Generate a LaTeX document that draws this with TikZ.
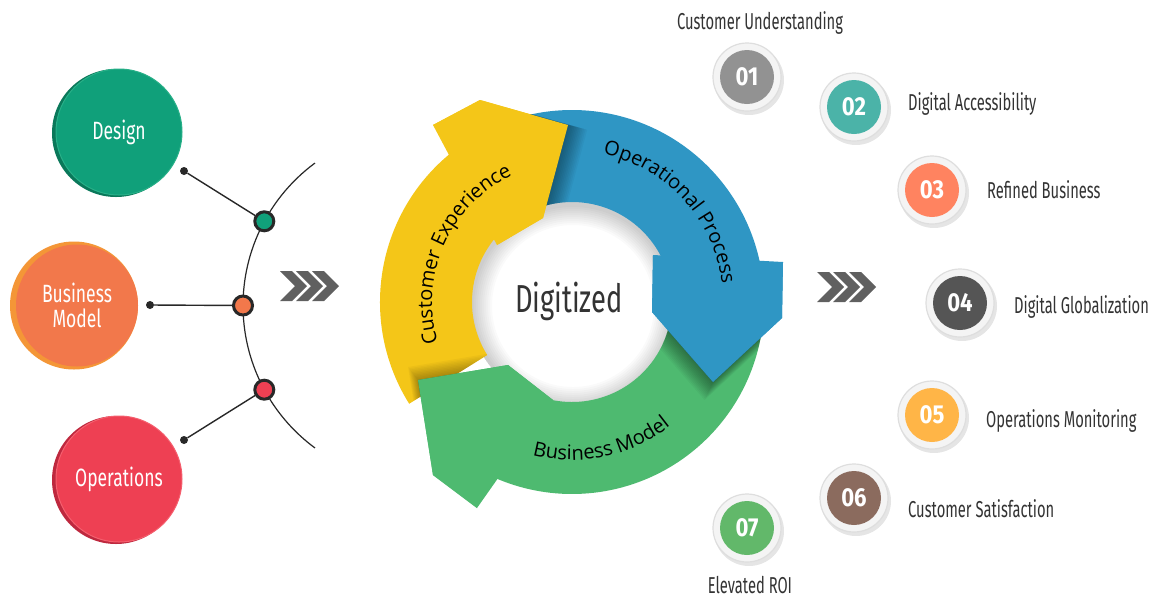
\documentclass[tikz,border=0pt]{standalone}
\usepackage{fontspec}
\setmainfont{Fira Sans}
\newfontfamily\cond[FakeStretch=0.7]{Fira Sans}
\newfontfamily\condr[FakeStretch=0.64]{Fira Sans}
\newfontfamily\numf[FakeStretch=0.85]{Fira Sans}
\newfontfamily\arcf{Open Sans}
\usetikzlibrary{decorations.text}
\definecolor{cyel}{RGB}{244,198,24}
\definecolor{cblu}{RGB}{47,150,196}
\definecolor{cgrn}{RGB}{78,186,112}
\definecolor{design}{RGB}{16,160,122}
\definecolor{designD}{RGB}{10,120,90}
\definecolor{designL}{RGB}{40,176,136}
\definecolor{bizm}{RGB}{242,120,75}
\definecolor{bizmD}{RGB}{244,150,55}
\definecolor{opsc}{RGB}{238,64,83}
\definecolor{opscD}{RGB}{190,40,62}
\definecolor{opscL}{RGB}{245,95,110}
\definecolor{chev}{RGB}{96,96,96}
\definecolor{n1}{RGB}{146,146,146}
\definecolor{n2}{RGB}{75,179,168}
\definecolor{n3}{RGB}{255,131,96}
\definecolor{n4}{RGB}{85,85,85}
\definecolor{n5}{RGB}{255,181,71}
\definecolor{n6}{RGB}{139,107,94}
\definecolor{n7}{RGB}{98,184,106}
\definecolor{txt}{RGB}{51,51,51}
\definecolor{ringF}{RGB}{244,244,244}
\definecolor{ringD}{RGB}{222,222,222}
\definecolor{linec}{RGB}{40,40,40}
\begin{document}
\begin{tikzpicture}[x=1pt,y=-1pt,
  lbl/.style={inner sep=0pt, text=txt, font=\condr\fontsize{23}{23}\selectfont},
  bigc/.style={circle, minimum size=126, inner sep=0pt, text=white, align=center,
    font=\cond\fontsize{25}{25}\selectfont},
  hub/.style={circle, minimum size=19, inner sep=0pt, draw=linec, line width=3},
  dotn/.style={circle, minimum size=8, inner sep=0pt, fill=linec},
  conn/.style={draw=linec, line width=1.4},
  numring/.style={circle, minimum size=68, inner sep=0pt, fill=ringF, draw=ringD, line width=1.2},
  numdisk/.style={circle, minimum size=54, inner sep=0pt, fill=#1, text=white,
    font=\numf\bfseries\fontsize{26}{26}\selectfont},
  arclbl/.style={decorate, decoration={text along path, text align=center, text color=black,
    text={|\arcf\fontsize{20}{20}\selectfont|#1}}}
]
\useasboundingbox (0,0) rectangle (1156,598);
\fill[white] (0,0) rectangle (1156,598);

% ---------- left side ----------
\draw[linec, line width=1.2] (420,305.5) ++(233.6:177) arc[start angle=233.6, end angle=126.4, radius=177];

\fill[designD] (116,133) circle[radius=64];
\node[bigc, fill=design, draw=designL, line width=1] (design) at (119,132) {Design};
\fill[bizmD] (74,305.5) circle[radius=64];
\node[bigc, fill=bizm, minimum size=122] (bizmodel) at (77,305.5) {Business\\Model};
\fill[opscD] (116,480) circle[radius=64];
\node[bigc, fill=opsc, draw=opscL, line width=1] (ops) at (119,479) {Operations};

\node[dotn] (d1) at (184,171) {};
\node[dotn] (d2) at (150,305) {};
\node[dotn] (d3) at (184,440) {};
\node[hub, fill=design] (h1) at (264.3,221.3) {};
\node[hub, fill=bizm] (h2) at (243,305.5) {};
\node[hub, fill=opsc] (h3) at (264.3,389.7) {};
\draw[conn] (d1) -- (h1);
\draw[conn] (d2) -- (h2);
\draw[conn] (d3) -- (h3);

% chevrons
\foreach \x in {280,296,312}
  \fill[chev] (\x,271) -- ++(12,0) -- ++(15,15) -- ++(-15,15) -- ++(-12,0) -- ++(15,-15) -- cycle;
\foreach \x in {817,833,849}
  \fill[chev] (\x,272) -- ++(12,0) -- ++(15,15) -- ++(-15,15) -- ++(-12,0) -- ++(15,-15) -- cycle;

% ---------- cycle ----------
\begin{scope}[shift={(572,302)}]
  % inner shadow of the hole
  \foreach \k in {1,...,10}
    \fill[black, opacity=0.02, even odd rule] (0,0) circle[radius=104] (1,4) circle[radius=101-2*\k];
  % full arrows
  \fill[cyel] (148:192) arc[start angle=148, end angle=236, radius=192]
    -- (-139,-177) -- (-92,-202) -- (-4,-177) -- (-29,-84) -- (-75,-57)
    -- (231:100) arc[start angle=231, end angle=148, radius=100] -- cycle;
  \fill[cgrn] (8:192) arc[start angle=8, end angle=121, radius=192]
    -- (-95,206) -- (-139,173) -- (-154,78) -- (-64,63) -- (-19,98)
    -- (111:100) arc[start angle=111, end angle=8, radius=100] -- cycle;
  \fill[cblu] (250:192) arc[start angle=250, end angle=354.8, radius=192]
    -- (211,-40) -- (210,16) -- (141,80) -- (80,10) -- (81,-47)
    -- (344:100) arc[start angle=344, end angle=250, radius=100] -- cycle;
  % shadows of heads on the next tail
  \begin{scope}
    \clip (250:192) arc[start angle=250, end angle=300, radius=192] -- (300:100) arc[start angle=300, end angle=250, radius=100] -- cycle;
    \foreach \k in {1,...,12}
      \fill[black, opacity=0.035, shift={(1.6*\k,0.4*\k)}]
        (-139,-177) -- (-92,-202) -- (-4,-177) -- (-29,-84) -- (-75,-57) -- cycle;
  \end{scope}
  \begin{scope}
    \clip (8:192) arc[start angle=8, end angle=60, radius=192] -- (60:100) arc[start angle=60, end angle=8, radius=100] -- cycle;
    \foreach \k in {1,...,12}
      \fill[black, opacity=0.035, shift={(-0.7*\k,1.5*\k)}]
        (211,-40) -- (210,16) -- (141,80) -- (80,10) -- (81,-47) -- cycle;
  \end{scope}
  \begin{scope}
    \clip (148:192) arc[start angle=148, end angle=190, radius=192] -- (190:100) arc[start angle=190, end angle=148, radius=100] -- cycle;
    \foreach \k in {1,...,10}
      \fill[black, opacity=0.03, shift={(-1.0*\k,-1.3*\k)}]
        (-95,206) -- (-139,173) -- (-154,78) -- (-64,63) -- (-19,98) -- cycle;
  \end{scope}
  % heads on top
  \fill[cyel] (-139,-177) -- (-92,-202) -- (-4,-177) -- (-29,-84) -- (-75,-57) -- cycle;
  \fill[cblu] (211,-40) -- (210,16) -- (141,80) -- (80,10) -- (81,-47) -- cycle;
  \fill[cgrn] (-95,206) -- (-139,173) -- (-154,78) -- (-64,63) -- (-19,98) -- cycle;
  % labels along the arrows
  \path[arclbl={Customer Experience}] (158:140) arc[start angle=158, end angle=250, radius=140];
  \path[arclbl={Operational Process}] (270:151) arc[start angle=270, end angle=365, radius=151];
  \path[arclbl={Business Model}] (121:158) arc[start angle=121, end angle=35, radius=158];
\end{scope}
\node[anchor=base, inner sep=0pt, text=txt, font=\cond\fontsize{39}{39}\selectfont] (digit) at (569,312) {Digitized};

% ---------- right side ----------
\foreach \p in {(747,77),(854,107),(932,190),(960,303),(932,415),(854,498),(747,528)}
  \fill[black, opacity=0.10] \p ++(2,3) circle[radius=35];
\node[numring] (r1) at (747,77) {};
\node[numring] (r2) at (854,107) {};
\node[numring] (r3) at (932,190) {};
\node[numring] (r4) at (960,303) {};
\node[numring] (r5) at (932,415) {};
\node[numring] (r6) at (854,498) {};
\node[numring] (r7) at (747,528) {};
\node[numdisk=n1] (c1) at (747,77) {01};
\node[numdisk=n2] (c2) at (854,107) {02};
\node[numdisk=n3] (c3) at (932,190) {03};
\node[numdisk=n4] (c4) at (960,303) {04};
\node[numdisk=n5] (c5) at (932,415) {05};
\node[numdisk=n6] (c6) at (854,498) {06};
\node[numdisk=n7] (c7) at (747,528) {07};

\node[lbl, anchor=base] (t1) at (760,29) {Customer Understanding};
\node[lbl, anchor=base west] (t2) at (908,110) {Digital Accessibility};
\node[lbl, anchor=base west] (t3) at (987,198) {Refined Business};
\node[lbl, anchor=base west] (t4) at (1014,313) {Digital Globalization};
\node[lbl, anchor=base west] (t5) at (986,427) {Operations Monitoring};
\node[lbl, anchor=base west] (t6) at (908,517) {Customer Satisfaction};
\node[lbl, anchor=base] (t7) at (750,593) {Elevated ROI};
\end{tikzpicture}
\end{document}
